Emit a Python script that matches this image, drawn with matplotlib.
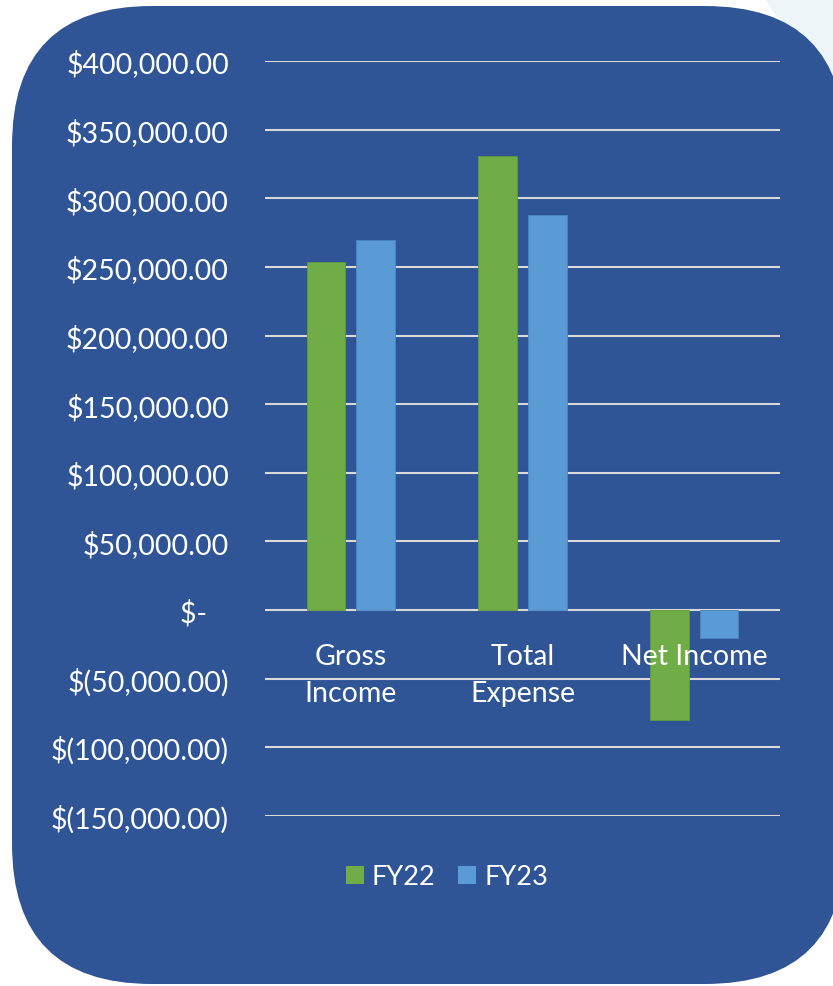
import matplotlib
matplotlib.use("Agg")
import matplotlib.pyplot as plt
from matplotlib.patches import FancyBboxPatch, Polygon, Patch
from matplotlib.ticker import FuncFormatter, MultipleLocator
import numpy as np

categories = ["Gross\nIncome", "Total\nExpense", "Net Income"]
fy22 = [253500, 330500, -80000]
fy23 = [269500, 288000, -20500]
series_names = ["FY22", "FY23"]

green = "#70AD47"
light_blue = "#5B9BD5"
panel_blue = "#2F5597"
grid_grey = "#D9D9D9"

plt.rcParams['font.family'] = ['Lato', 'DejaVu Sans']

W = 833
H = 987
fig = plt.figure(figsize=(W / 100, H / 100), dpi=100)

# background panel drawn in pixel coords
bg = fig.add_axes([0, 0, 1, 1])
bg.set_xlim(0, W)
bg.set_ylim(H, 0)
bg.axis("off")
bg.add_patch(Polygon([(765, 0), (833, 0), (833, 140), (805, 60)],
                     closed=True, facecolor="#EEF5F8", edgecolor="none"))
bg.add_patch(FancyBboxPatch((12, 7), 833, 978,
                            boxstyle="round,pad=0,rounding_size=140",
                            facecolor=panel_blue, edgecolor="none"))

ax = fig.add_axes([265 / W, 1 - 817 / H, (780 - 265) / W, (817 - 62) / H])
ax.set_facecolor("none")

x = np.arange(len(categories))
offset = 0.144
width = 0.225
ax.bar(x - offset, fy22, width, color=green, edgecolor="#5E9A3A", linewidth=0.6, zorder=3)
ax.bar(x + offset, fy23, width, color=light_blue, edgecolor="#4A86C0", linewidth=0.6, zorder=3)

ax.set_xlim(-0.5, 2.5)
ax.set_ylim(-150000, 400000)
ax.yaxis.set_major_locator(MultipleLocator(50000))
ax.grid(axis="y", color=grid_grey, linewidth=1.5, zorder=1)
ax.set_axisbelow(True)


def acct(v, pos):
    if abs(v) < 1:
        return "$-   "
    if v < 0:
        return "$(" + format(-v, ",.2f") + ")"
    return "$" + format(v, ",.2f")


ax.yaxis.set_major_formatter(FuncFormatter(acct))
ax.tick_params(axis="y", length=0, pad=26, labelsize=20.5, labelcolor="white")
ax.set_xticks([])
for s in ax.spines.values():
    s.set_visible(False)

for i in range(len(categories)):
    ax.annotate(categories[i], xy=(x[i], 0), xytext=(0, -23.5),
                textcoords="offset points", ha="center", va="top",
                fontsize=20.5, color="white", linespacing=1.55, zorder=5)

handles = [Patch(facecolor=green, edgecolor="none"),
           Patch(facecolor=light_blue, edgecolor="none")]
fig.legend(handles, series_names, loc="center", bbox_to_anchor=(447 / W, 1 - 878 / H),
           ncol=2, frameon=False, fontsize=19.5, labelcolor="white",
           handlelength=0.65, handleheight=0.65, handletextpad=0.3, columnspacing=0.85)

fig.savefig("out.png", dpi=100)
